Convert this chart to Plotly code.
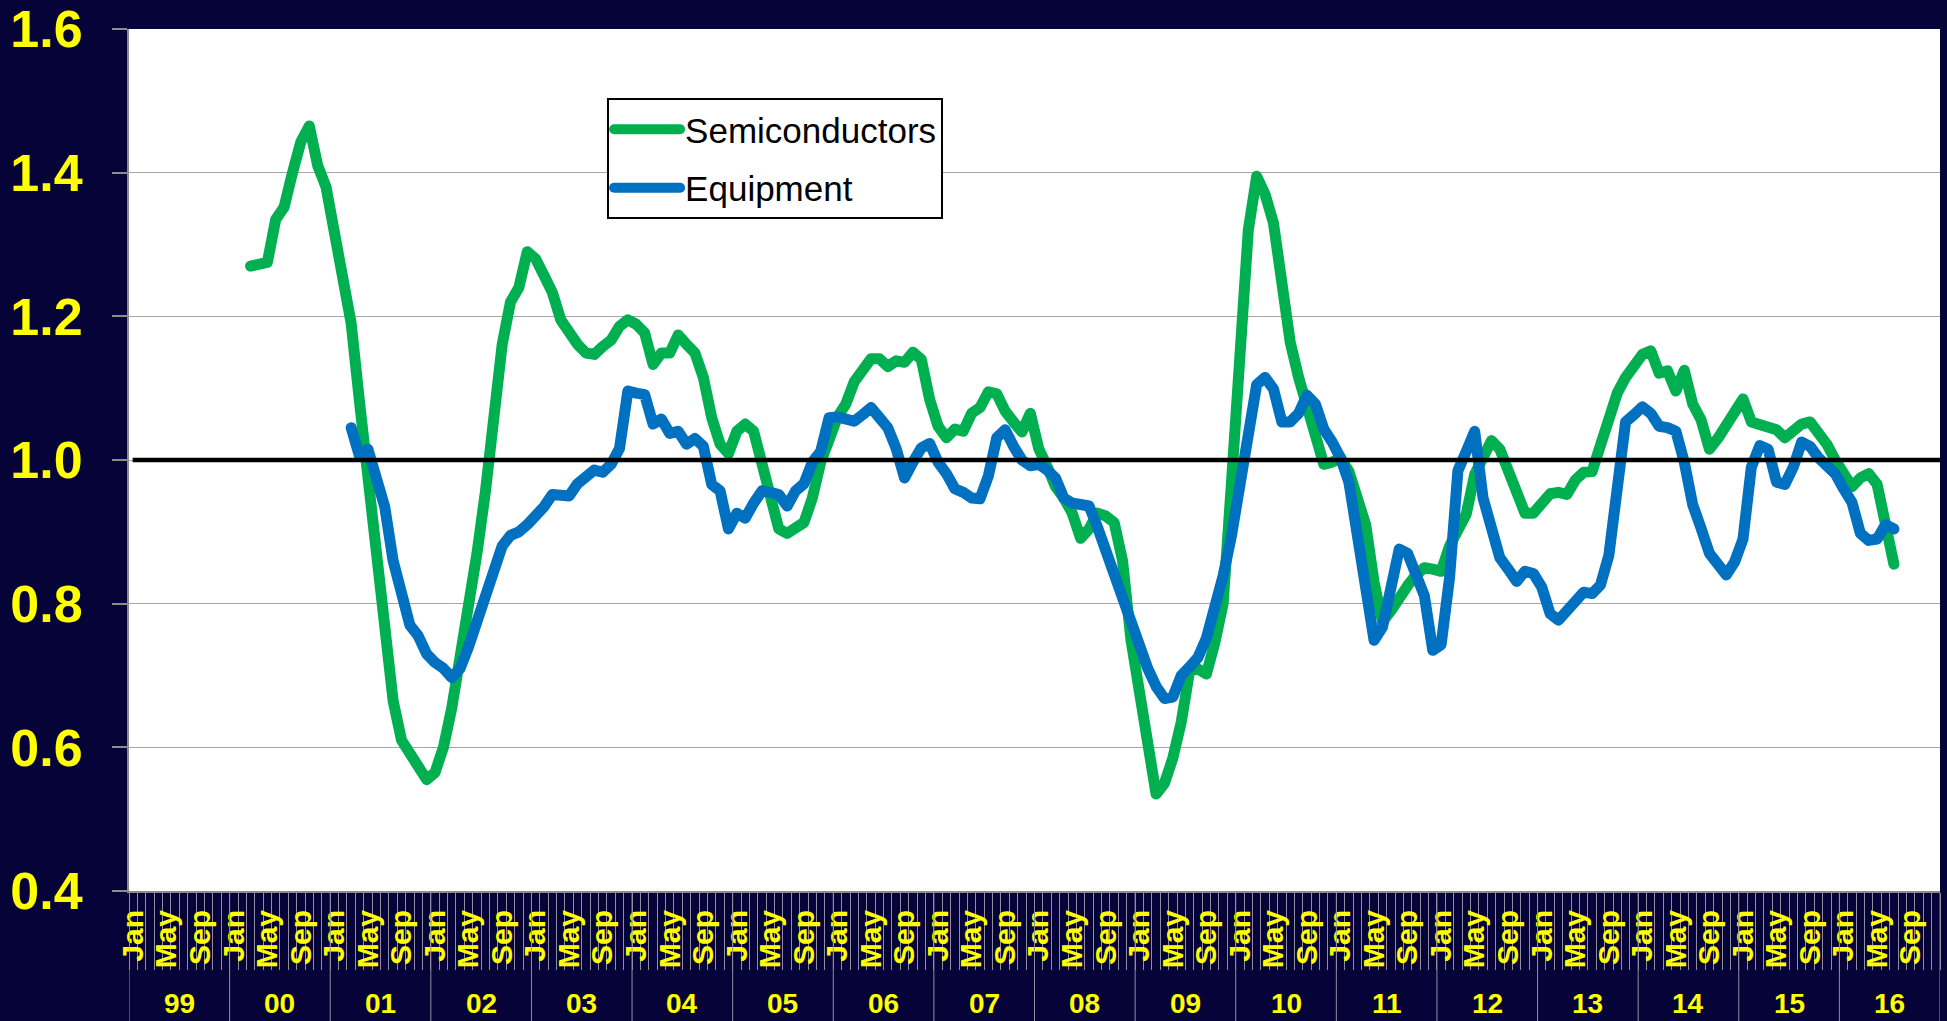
import plotly.graph_objects as go

# ---------------- data ----------------
MONTHS = ["Jan", "Feb", "Mar", "Apr", "May", "Jun", "Jul", "Aug", "Sep", "Oct", "Nov", "Dec"]
YEARS = ["99", "00", "01", "02", "03", "04", "05", "06", "07", "08",
         "09", "10", "11", "12", "13", "14", "15", "16"]
LABELLED_MONTHS = ["Jan", "May", "Sep"]
categories = [f"{m} {y}" for y in YEARS for m in MONTHS]

semis_start = "Mar 00"
semis = [
    1.27, 1.272, 1.275, 1.335, 1.352, 1.40, 1.443, 1.465, 1.41, 1.38,
    1.32, 1.25, 1.19, 1.08, 0.975, 0.86, 0.74, 0.665, 0.61, 0.59, 0.575, 0.555,
    0.565, 0.60, 0.655, 0.72, 0.79, 0.87, 0.955, 1.05, 1.16, 1.22, 1.24, 1.29,
    1.28, 1.257, 1.233, 1.195, 1.177, 1.161, 1.149, 1.147, 1.158, 1.167, 1.186, 1.195,
    1.189, 1.177, 1.133, 1.149, 1.149, 1.174, 1.161, 1.149, 1.115, 1.059, 1.022, 1.009,
    1.04, 1.05, 1.04, 0.997, 0.941, 0.904, 0.898, 0.904, 0.913, 0.947, 0.997, 1.028,
    1.06, 1.078, 1.109, 1.125, 1.141, 1.141, 1.13, 1.138, 1.136, 1.15, 1.14, 1.084,
    1.047, 1.031, 1.043, 1.04, 1.065, 1.073, 1.095, 1.092, 1.068, 1.053, 1.039, 1.065,
    1.016, 0.991, 0.963, 0.947, 0.926, 0.891, 0.904, 0.926, 0.922, 0.913, 0.86, 0.75,
    0.68, 0.60, 0.535, 0.55, 0.585, 0.635, 0.706, 0.709, 0.702, 0.745, 0.80, 0.97,
    1.15, 1.32, 1.395, 1.37, 1.33, 1.25, 1.164, 1.115, 1.078, 1.034, 0.994, 0.997,
    1.003, 0.984, 0.94, 0.91, 0.83, 0.775, 0.79, 0.81, 0.825, 0.84, 0.85, 0.848,
    0.845, 0.88, 0.905, 0.925, 0.98, 1.0, 1.027, 1.015, 0.985, 0.96, 0.926, 0.926,
    0.941, 0.953, 0.955, 0.952, 0.972, 0.983, 0.984, 1.022, 1.053, 1.093, 1.115, 1.133,
    1.147, 1.152, 1.121, 1.124, 1.096, 1.125, 1.078, 1.056, 1.015, 1.03, 1.047, 1.07,
    1.085, 1.053, 1.048, 1.046, 1.042, 1.031, 1.04, 1.05, 1.053, 1.039, 1.022, 1.0,
    0.981, 0.963, 0.975, 0.981, 0.966, 0.91, 0.855,
]

equip_start = "Mar 01"
equip = [
    1.045, 1.005, 1.015, 0.975, 0.935, 0.86, 0.81, 0.77, 0.755, 0.73,
    0.718, 0.71, 0.697, 0.71, 0.74, 0.775, 0.805, 0.835, 0.88, 0.895, 0.90, 0.91,
    0.92, 0.935, 0.952, 0.95, 0.95, 0.967, 0.975, 0.986, 0.983, 0.994, 1.016, 1.096,
    1.093, 1.091, 1.05, 1.057, 1.037, 1.04, 1.022, 1.03, 1.019, 0.966, 0.957, 0.904,
    0.926, 0.919, 0.94, 0.957, 0.955, 0.952, 0.936, 0.957, 0.967, 0.997, 1.012, 1.059,
    1.06, 1.056, 1.054, 1.063, 1.073, 1.059, 1.045, 1.016, 0.975, 0.997, 1.017, 1.023,
    0.997, 0.981, 0.96, 0.955, 0.947, 0.946, 0.978, 1.031, 1.042, 1.019, 1.0, 0.992,
    0.994, 0.986, 0.975, 0.947, 0.94, 0.938, 0.936, 0.907, 0.873, 0.842, 0.81, 0.775,
    0.74, 0.71, 0.685, 0.668, 0.67, 0.70, 0.712, 0.725, 0.752, 0.792, 0.839, 0.895,
    0.972, 1.04, 1.105, 1.115, 1.099, 1.053, 1.053, 1.065, 1.09, 1.078, 1.043, 1.025,
    1.003, 0.969, 0.891, 0.811, 0.749, 0.767, 0.83, 0.876, 0.87, 0.842, 0.811, 0.735,
    0.743, 0.836, 0.985, 1.012, 1.04, 0.947, 0.898, 0.864, 0.848, 0.831, 0.845, 0.842,
    0.823, 0.786, 0.777, 0.789, 0.805, 0.816, 0.814, 0.826, 0.867, 0.953, 1.053, 1.063,
    1.074, 1.065, 1.047, 1.045, 1.04, 0.997, 0.938, 0.905, 0.87, 0.855, 0.84, 0.858,
    0.89, 0.99, 1.02, 1.015, 0.969, 0.966, 0.99, 1.025, 1.019, 1.003, 0.994, 0.981,
    0.96, 0.941, 0.898, 0.888, 0.89, 0.91, 0.904,
]

y_ticks = [0.4, 0.6, 0.8, 1.0, 1.2, 1.4, 1.6]
reference_level = 1.0

# ---------------- styling ----------------
NAVY = "#060339"
YELLOW = "#FFFF00"
GREEN = "#00B050"
BLUE = "#0070C0"
GRID = "#A6A6A6"
TICK = "#8E8EA0"
FONT = "Liberation Sans, Arial, sans-serif"

s0 = categories.index(semis_start)
e0 = categories.index(equip_start)

fig = go.Figure()
fig.add_trace(go.Scatter(
    x=categories[s0:s0 + len(semis)], y=semis, mode="lines", name="Semiconductors",
    line=dict(color=GREEN, width=11), legendgroup="a",
))
fig.add_trace(go.Scatter(
    x=categories[e0:e0 + len(equip)], y=equip, mode="lines", name="Equipment",
    line=dict(color=BLUE, width=11), legendgroup="b",
))

ticktext = [c.split(" ")[0] if c.split(" ")[0] in LABELLED_MONTHS else "" for c in categories]

shapes = []
annotations = []
# horizontal reference line at 1.0
shapes.append(dict(type="line", xref="paper", x0=0.002, x1=1, yref="y",
                   y0=reference_level, y1=reference_level,
                   line=dict(color="black", width=4.5), layer="above"))
# year separators and year labels
for k, yy in enumerate(YEARS):
    shapes.append(dict(type="line", xref="x", x0=12 * k - 0.5, x1=12 * k - 0.5,
                       yref="paper", y0=0, y1=-0.2,
                       line=dict(color=TICK, width=1)))
    annotations.append(dict(xref="x", x=12 * k + 5.5, yref="paper", y=-0.13,
                            text=yy, showarrow=False, yanchor="middle",
                            font=dict(family=FONT, size=28, color=YELLOW, weight="bold")))
shapes.append(dict(type="line", xref="x", x0=len(categories) - 0.5, x1=len(categories) - 0.5,
                   yref="paper", y0=0, y1=-0.2, line=dict(color=TICK, width=1)))

fig.update_layout(
    width=1947, height=1021,
    paper_bgcolor=NAVY, plot_bgcolor="white",
    margin=dict(l=129, r=7, t=29, b=130, autoexpand=False),
    showlegend=True,
    legend=dict(
        x=0.264, y=0.92, xanchor="left", yanchor="top",
        bgcolor="white", bordercolor="black", borderwidth=2,
        font=dict(family=FONT, size=35, color="black"),
        traceorder="grouped", tracegroupgap=10, itemwidth=66,
    ),
    shapes=shapes,
    annotations=annotations,
)

fig.update_xaxes(
    type="category", categoryorder="array", categoryarray=categories,
    range=[-0.5, len(categories) - 0.5], automargin=False,
    tickmode="array", tickvals=categories, ticktext=ticktext,
    tickson="boundaries", ticks="outside", ticklen=77, tickwidth=1, tickcolor=TICK,
    tickangle=-90, ticklabelstandoff=5,
    tickfont=dict(family=FONT, size=30, color=YELLOW, weight="bold"),
    showgrid=False, showline=True, linecolor="#8C8C8C", linewidth=2,
    zeroline=False,
)
fig.update_yaxes(
    range=[0.4, 1.6], tickmode="array", tickvals=y_ticks, tickformat=".1f",
    automargin=False,
    ticks="outside", ticklen=15, tickwidth=2, tickcolor="#8C8C8C",
    ticklabelstandoff=19,
    tickfont=dict(family=FONT, size=52, color=YELLOW, weight="bold"),
    showgrid=True, gridcolor=GRID, gridwidth=1,
    showline=True, linecolor="#8C8C8C", linewidth=2, zeroline=False,
)

page_css = (
    "var s=document.createElement('style');"
    "s.textContent='body{margin:0;overflow:hidden}"
    " .scatterlayer path.js-line, .legendlines path.js-line"
    "{stroke-linejoin:round;stroke-linecap:round}';"
    "document.head.appendChild(s);"
)

fig.write_html(
    "out.html",
    config={"displayModeBar": False},
    post_script=page_css,
)
